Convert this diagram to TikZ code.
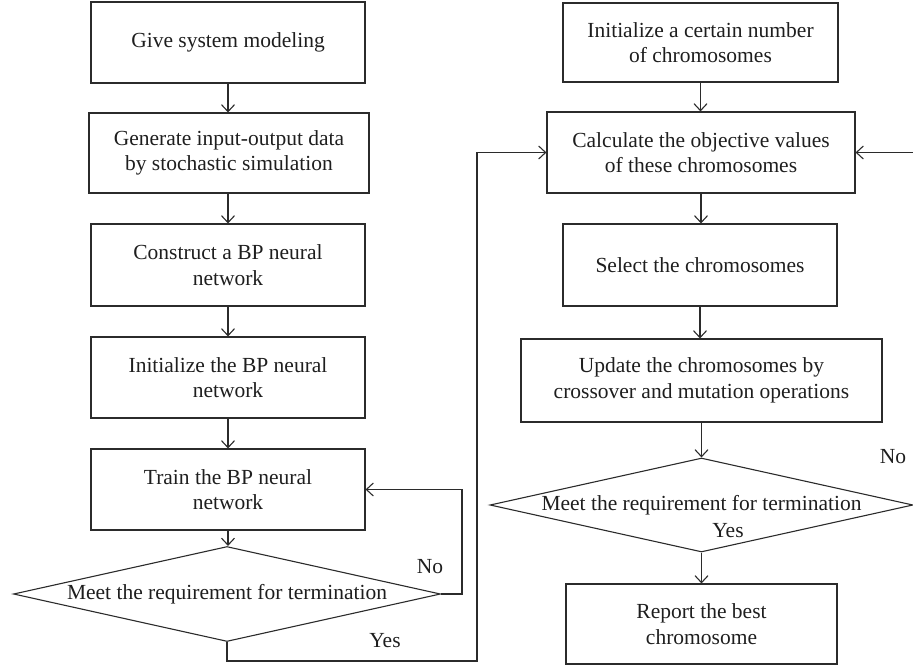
\documentclass[tikz,border=0pt]{standalone}
\usepackage{fontspec}
\setmainfont{Liberation Serif}
\usetikzlibrary{shapes.geometric,arrows.meta}
\definecolor{lc}{HTML}{2B2B2B}
\definecolor{tc}{HTML}{1E1E1E}
\newcommand{\figfont}{\fontsize{21.5}{25.5}\selectfont}
\begin{document}
\begin{tikzpicture}[x=1pt,y=-1pt,
 box/.style={draw=lc, line width=1.1pt, inner sep=0pt, align=center, font=\figfont, text=tc},
 dec/.style={draw=lc, line width=1.1pt, diamond, aspect=4.5, inner sep=0pt, font=\figfont, text=tc},
 arr/.style={draw=lc, line width=1.1pt, -{Straight Barb[length=7pt,width=13pt]}},
 lab/.style={font=\figfont, inner sep=0pt, text=tc}]
\useasboundingbox (0,0) rectangle (913,667);
% left column
\node[box, minimum width=274pt, minimum height=81pt] (b1) at (228,42.5) {Give system modeling};
\node[box, minimum width=280pt, minimum height=80pt] (b2) at (229,153) {Generate input-output data\\by stochastic simulation};
\node[box, minimum width=274pt, minimum height=82pt] (b3) at (228,265) {Construct a BP neural\\network};
\node[box, minimum width=274pt, minimum height=81pt] (b4) at (228,377.5) {Initialize the BP neural\\network};
\node[box, minimum width=274pt, minimum height=81pt] (b5) at (228,489.5) {Train the BP neural\\network};
\node[dec, minimum width=427pt, minimum height=95pt] (d1) at (227,594) {Meet the requirement for termination};
% right column
\node[box, minimum width=275pt, minimum height=79pt] (r1) at (700.5,42.5) {Initialize a certain number\\of chromosomes};
\node[box, minimum width=308pt, minimum height=81pt] (r2) at (701,152.5) {Calculate the objective values\\of these chromosomes};
\node[box, minimum width=274pt, minimum height=82pt] (r3) at (700,265) {Select the chromosomes};
\node[box, minimum width=361pt, minimum height=83pt] (r4) at (701.5,380.5) {Update the chromosomes by\\crossover and mutation operations};
\node[dec, minimum width=423pt, minimum height=94pt] (d2) at (701.5,505) {Meet the requirement for termination};
\node[box, minimum width=271pt, minimum height=80pt] (r5) at (701.5,624) {Report the best\\chromosome};
% labels
\node[lab] (no1) at (430,567) {No};
\node[lab] (yes1) at (385,641) {Yes};
\node[lab] (no2) at (893,457) {No};
\node[lab] (yes2) at (728,531) {Yes};
% helper coordinates
\coordinate (nl) at (462,594);
\coordinate (ya) at (227,661);
\coordinate (yb) at (477,661);
\coordinate (re) at (913,152.5);
% connectors left
\draw[arr] (b1.south) -- (b1.south |- b2.north);
\draw[arr] (b2.south -| b1.south) -- (b3.north);
\draw[arr] (b3.south) -- (b4.north);
\draw[arr] (b4.south) -- (b5.north);
\draw[arr] (b5.south) -- (b5.south |- d1.north);
\draw[arr] (d1.east) -- (nl) |- (b5.east);
\draw[arr] (d1.south) -- (ya) -- (yb) |- (r2.west);
% connectors right
\draw[arr] (re) -- (r2.east);
\draw[arr] (r1.south) -- (r1.south |- r2.north);
\draw[arr] (r2.south) -- (r2.south |- r3.north);
\draw[arr] (r3.south) -- (r3.south |- r4.north);
\draw[arr] (r4.south) -- (d2.north);
\draw[arr] (d2.south) -- (r5.north);
\end{tikzpicture}
\end{document}
